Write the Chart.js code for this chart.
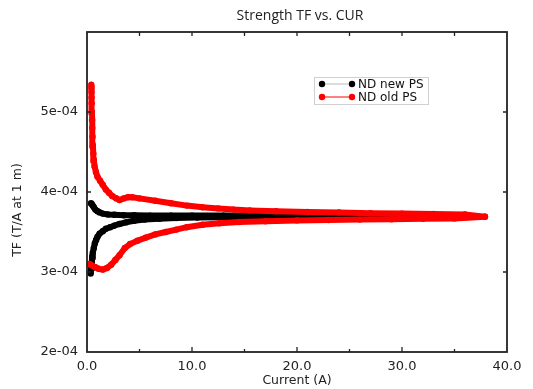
<!DOCTYPE html>
<html>
<head>
<meta charset="utf-8">
<script src="https://cdn.jsdelivr.net/npm/chart.js@4"></script>
<style>
  body { margin: 0; background: #fff; }
</style>
</head>
<body>
<canvas id="tfChart" width="533" height="389"></canvas>
<script>
// Datos: corriente (A) y TF (T/A a 1 m)
const chartTitle = 'Strength TF vs. CUR';
const xTitle = 'Current (A)';
const yTitle = 'TF (T/A at 1 m)';
const seriesNames = ['ND new PS', 'ND old PS'];
const xTickLabels = ['0.0', '10.0', '20.0', '30.0', '40.0'];
const yTickLabels = ['2e-04', '3e-04', '4e-04', '5e-04', ''];

// ND new PS - rama de subida
const newUpCur = [0.35, 0.4, 0.45, 0.5, 0.55, 0.65, 0.75, 0.87, 1.0, 1.2, 1.5, 1.8, 2.2, 2.6, 3.1, 3.7, 4.5, 5.5, 6.9, 8.5, 10.5, 13, 16, 19, 22, 25, 28, 31, 34, 37];
const newUpTF = [2.98e-4, 3.05e-4, 3.12e-4, 3.19e-4, 3.24e-4, 3.3e-4, 3.36e-4, 3.4e-4, 3.44e-4, 3.48e-4, 3.51e-4, 3.54e-4, 3.56e-4, 3.58e-4, 3.6e-4, 3.62e-4, 3.64e-4, 3.655e-4, 3.665e-4, 3.675e-4, 3.68e-4, 3.685e-4, 3.69e-4, 3.69e-4, 3.695e-4, 3.695e-4, 3.695e-4, 3.695e-4, 3.695e-4, 3.695e-4];
// ND new PS - rama de bajada
const newDownCur = [37, 34, 31, 28, 25, 22, 19, 16, 13, 10, 8, 6, 4.5, 3.5, 2.6, 2, 1.5, 1.2, 1.0, 0.8, 0.65, 0.55, 0.45, 0.38];
const newDownTF = [3.695e-4, 3.7e-4, 3.7e-4, 3.7e-4, 3.7e-4, 3.7e-4, 3.7e-4, 3.705e-4, 3.705e-4, 3.705e-4, 3.705e-4, 3.705e-4, 3.71e-4, 3.71e-4, 3.715e-4, 3.72e-4, 3.73e-4, 3.745e-4, 3.76e-4, 3.78e-4, 3.81e-4, 3.83e-4, 3.85e-4, 3.86e-4];

// ND old PS - rama de subida
const oldUpCur = [0.25, 0.5, 0.8, 1.1, 1.5, 1.9, 2.3, 2.7, 3.1, 3.6, 4.1, 4.8, 5.6, 6.5, 7.5, 8.5, 9.5, 11, 12.6, 14.5, 17, 20, 23, 26, 29, 32, 35, 37.9];
const oldUpTF = [3.1e-4, 3.08e-4, 3.06e-4, 3.04e-4, 3.03e-4, 3.05e-4, 3.09e-4, 3.15e-4, 3.21e-4, 3.3e-4, 3.35e-4, 3.39e-4, 3.43e-4, 3.47e-4, 3.5e-4, 3.53e-4, 3.56e-4, 3.59e-4, 3.61e-4, 3.625e-4, 3.635e-4, 3.645e-4, 3.65e-4, 3.655e-4, 3.66e-4, 3.665e-4, 3.67e-4, 3.69e-4];
// ND old PS - rama de bajada
const oldDownCur = [37.9, 36, 33, 30, 27, 24, 21, 18, 15.5, 14, 12.5, 11, 9.5, 8, 6.5, 5, 4.3, 3.9, 3.5, 3.1, 2.8, 2.4, 2.1, 1.8, 1.5, 1.25, 1.0, 0.85, 0.72, 0.65, 0.6, 0.56, 0.53, 0.5, 0.48, 0.46, 0.45, 0.44, 0.43, 0.42, 0.41];
const oldDownTF = [3.69e-4, 3.72e-4, 3.725e-4, 3.73e-4, 3.735e-4, 3.745e-4, 3.75e-4, 3.76e-4, 3.77e-4, 3.78e-4, 3.795e-4, 3.81e-4, 3.83e-4, 3.86e-4, 3.89e-4, 3.92e-4, 3.935e-4, 3.935e-4, 3.92e-4, 3.9e-4, 3.92e-4, 3.95e-4, 3.99e-4, 4.03e-4, 4.09e-4, 4.14e-4, 4.19e-4, 4.25e-4, 4.32e-4, 4.4e-4, 4.48e-4, 4.58e-4, 4.69e-4, 4.8e-4, 4.9e-4, 5.0e-4, 5.11e-4, 5.18e-4, 5.25e-4, 5.3e-4, 5.34e-4];

const seriesColors = ['#000000', '#ff0000'];

// Une las dos ramas en una sola lista de puntos
const toPoints = (cur1, tf1, cur2, tf2) =>
  cur1.map((x, i) => ({ x, y: tf1[i] })).concat(cur2.map((x, i) => ({ x, y: tf2[i] })));

const labelFont = "12.5px 'DejaVu Sans'";

// Marco, marcas hacia dentro, titulos y leyenda
const framePlugin = {
  id: 'frame',
  afterDatasetsDraw(chart) {
    const { ctx, chartArea: a, scales } = chart;
    const xs = scales.x;
    const ys = scales.y;
    ctx.save();
    ctx.strokeStyle = '#222';
    ctx.lineWidth = 1.8;
    ctx.strokeRect(a.left, a.top, a.right - a.left, a.bottom - a.top);

    // marcas del eje X (mayores y menores)
    ctx.lineWidth = 1.3;
    for (let v = 5; v < 40; v += 5) {
      const px = xs.getPixelForValue(v);
      const len = v % 10 === 0 ? 5 : 3;
      ctx.beginPath();
      ctx.moveTo(px, a.bottom);
      ctx.lineTo(px, a.bottom - len);
      ctx.moveTo(px, a.top);
      ctx.lineTo(px, a.top + 4);
      ctx.stroke();
    }
    // marcas del eje Y
    for (let v = 3e-4; v < 5.5e-4; v += 1e-4) {
      const py = ys.getPixelForValue(v);
      ctx.beginPath();
      ctx.moveTo(a.left, py);
      ctx.lineTo(a.left + 4, py);
      ctx.moveTo(a.right, py);
      ctx.lineTo(a.right - 4, py);
      ctx.stroke();
    }

    // titulo
    ctx.fillStyle = '#222';
    ctx.textAlign = 'center';
    ctx.textBaseline = 'middle';
    ctx.font = "14px 'Open Sans'";
    ctx.fillText(chartTitle, 300, 16);

    // titulos de ejes
    ctx.font = labelFont;
    ctx.fillText(xTitle, (a.left + a.right) / 2, 381);
    ctx.save();
    ctx.translate(18, 210);
    ctx.rotate(-Math.PI / 2);
    ctx.fillText(yTitle, 0, 0);
    ctx.restore();

    // leyenda
    ctx.fillStyle = '#fff';
    ctx.fillRect(314, 77, 114, 27);
    ctx.strokeStyle = '#d0d0d0';
    ctx.lineWidth = 1;
    ctx.strokeRect(314.5, 77.5, 114, 27);
    ctx.font = "12px 'DejaVu Sans'";
    ctx.textAlign = 'left';
    seriesNames.forEach((name, i) => {
      const yy = 84 + i * 13;
      ctx.strokeStyle = i === 0 ? '#bbbbbb' : seriesColors[i];
      ctx.lineWidth = 1;
      ctx.beginPath();
      ctx.moveTo(322, yy);
      ctx.lineTo(352, yy);
      ctx.stroke();
      ctx.fillStyle = seriesColors[i];
      [322, 352].forEach((cx) => {
        ctx.beginPath();
        ctx.arc(cx, yy, 3.2, 0, Math.PI * 2);
        ctx.fill();
      });
      ctx.fillStyle = '#111';
      ctx.fillText(name, 358, yy + 1);
    });
    ctx.restore();
  },
};

new Chart(document.getElementById('tfChart'), {
  type: 'scatter',
  data: {
    datasets: [
      {
        label: seriesNames[0],
        data: toPoints(newUpCur, newUpTF, newDownCur, newDownTF),
        showLine: true,
        borderColor: seriesColors[0],
        backgroundColor: seriesColors[0],
        borderWidth: 6,
        pointRadius: 3.2,
        pointBorderWidth: 0,
        order: 1,
      },
      {
        label: seriesNames[1],
        data: toPoints(oldUpCur, oldUpTF, oldDownCur, oldDownTF),
        showLine: true,
        borderColor: seriesColors[1],
        backgroundColor: seriesColors[1],
        borderWidth: 6,
        pointRadius: 3.2,
        pointBorderWidth: 0,
        order: 0,
      },
    ],
  },
  options: {
    responsive: false,
    animation: false,
    events: [],
    layout: { padding: { left: 0, right: 26, top: 32, bottom: 0 } },
    scales: {
      x: {
        type: 'linear',
        min: 0,
        max: 40,
        grid: { display: false, drawTicks: false },
        border: { display: false },
        ticks: {
          stepSize: 10,
          padding: 7,
          color: '#222',
          font: { family: 'DejaVu Sans', size: 13 },
          maxRotation: 0,
          callback: (v, i) => xTickLabels[i] ?? '',
        },
        afterFit: (s) => { s.height = 37; },
      },
      y: {
        type: 'linear',
        min: 2e-4,
        max: 6e-4,
        grid: { display: false, drawTicks: false },
        border: { display: false },
        ticks: {
          stepSize: 1e-4,
          padding: 9,
          color: '#222',
          font: { family: 'DejaVu Sans', size: 13 },
          callback: (v, i) => yTickLabels[i] ?? '',
        },
        afterFit: (s) => { s.width = 87; },
      },
    },
    plugins: {
      legend: { display: false },
      tooltip: { enabled: false },
    },
  },
  plugins: [framePlugin],
});
</script>
</body>
</html>
